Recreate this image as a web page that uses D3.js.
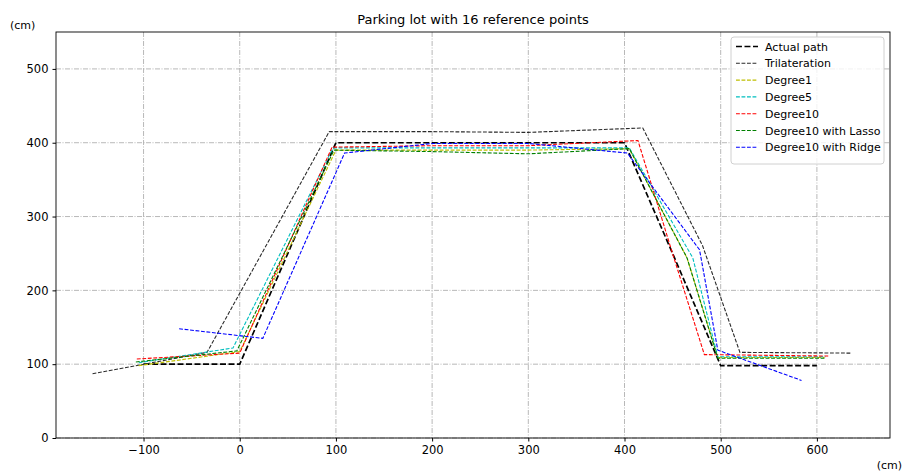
<!DOCTYPE html>
<html>
<head>
  <script src="https://d3js.org/d3.v7.min.js"></script>
  <style>
    body { margin: 0; background: #fff; }
    text { font-family: "DejaVu Sans", sans-serif; fill: #000; }
    .axis path, .axis line { stroke: #000; }
    .grid line { stroke: #b0b0b0; stroke-width: 0.9; stroke-dasharray: 5,1.5,1,1.5; }
  </style>
</head>
<body>
  <div id="chart"></div>
  <script>
    // x positions of each series, y positions of each series
    var actualX = [-100, 0, 100, 200, 300, 400, 450, 500, 600];
    var actualY = [100, 100, 400, 400, 400, 400, 250, 98, 98];
    var trilatX = [-153, -34, 93, 200, 300, 419, 481, 520, 636];
    var trilatY = [87, 116, 415, 415, 414, 420, 261, 116, 115];
    var deg1X = [-105, 0, 100, 200, 300, 405, 465, 497, 608];
    var deg1Y = [98, 117, 390, 390, 390, 392, 244, 109, 109];
    var deg5X = [-105, -7, 97, 200, 300, 405, 471, 497, 609];
    var deg5Y = [102, 122, 393, 393, 393, 393, 244, 110, 110];
    var deg10X = [-107, 0, 96, 200, 300, 414, 448, 483, 613];
    var deg10Y = [107, 115, 394, 396, 396, 403, 258, 113, 111];
    var lassoX = [-108, -3, 98, 200, 300, 405, 465, 497, 608];
    var lassoY = [103, 118, 390, 388, 385, 392, 244, 108, 108];
    var ridgeX = [-63, 24, 109, 200, 300, 403, 478, 497, 584];
    var ridgeY = [148, 135, 386, 399, 399, 386, 255, 119, 78];

    var seriesNames = ["Actual path", "Trilateration", "Degree1", "Degree5", "Degree10",
                       "Degree10 with Lasso", "Degree10 with Ridge"];
    var seriesX = [actualX, trilatX, deg1X, deg5X, deg10X, lassoX, ridgeX];
    var seriesY = [actualY, trilatY, deg1Y, deg5Y, deg10Y, lassoY, ridgeY];
    var colors = ["#000000", "#2a2a2a", "#bfbf00", "#00bfbf", "#ff0000", "#008000", "#0000ff"];
    var widths = [1.7, 1.1, 1.1, 1.1, 1.1, 1.1, 1.1];

    var xTicks = [-100, 0, 100, 200, 300, 400, 500, 600];
    var yTicks = [0, 100, 200, 300, 400, 500];

    var W = 903, H = 472;
    var margin = { top: 32, right: 13, bottom: 34, left: 56 };
    var width = W - margin.left - margin.right;
    var height = H - margin.top - margin.bottom;

    var svg = d3.select("#chart").append("svg")
      .attr("width", W).attr("height", H);
    var g = svg.append("g")
      .attr("transform", "translate(" + margin.left + "," + margin.top + ")");

    var x = d3.scaleLinear().domain([-191, 676]).range([0, width]);
    var y = d3.scaleLinear().domain([0, 550]).range([height, 0]);

    // grid
    g.append("g").attr("class", "grid")
      .selectAll("line").data(xTicks).enter().append("line")
      .attr("x1", function(d) { return x(d); }).attr("x2", function(d) { return x(d); })
      .attr("y1", 0).attr("y2", height);
    g.append("g").attr("class", "grid")
      .selectAll("line").data(yTicks).enter().append("line")
      .attr("y1", function(d) { return y(d); }).attr("y2", function(d) { return y(d); })
      .attr("x1", 0).attr("x2", width);

    var line = d3.line()
      .x(function(d) { return x(d[0]); })
      .y(function(d) { return y(d[1]); });

    seriesNames.forEach(function(name, i) {
      var pts = seriesX[i].map(function(v, j) { return [v, seriesY[i][j]]; });
      var w = widths[i];
      g.append("path")
        .attr("d", line(pts))
        .attr("fill", "none")
        .attr("stroke", colors[i])
        .attr("stroke-width", w)
        .attr("stroke-dasharray", (3.5 * w) + "," + (1.5 * w));
    });

    // axes
    g.append("g").attr("class", "axis")
      .attr("transform", "translate(0," + height + ")")
      .call(d3.axisBottom(x).tickValues(xTicks).tickSize(3.5).tickPadding(4)
        .tickFormat(function(d) { return d < 0 ? "\u2212" + Math.abs(d) : d; }));
    g.append("g").attr("class", "axis")
      .call(d3.axisLeft(y).tickValues(yTicks).tickSize(3.5).tickPadding(4));
    svg.selectAll(".axis text").style("font-size", "11.5px").style("font-family", "DejaVu Sans");
    svg.selectAll(".axis .domain").remove();

    // frame
    g.append("rect").attr("x", 0).attr("y", 0).attr("width", width).attr("height", height)
      .attr("fill", "none").attr("stroke", "#000").attr("stroke-width", 0.9);

    // title and units
    svg.append("text")
      .attr("x", margin.left + width / 2).attr("y", 24)
      .attr("text-anchor", "middle").style("font-size", "13px")
      .text("Parking lot with 16 reference points");
    svg.append("text").attr("x", 10).attr("y", 29).style("font-size", "11px").text("(cm)");
    svg.append("text").attr("x", 902).attr("y", 469).attr("text-anchor", "end")
      .style("font-size", "11px").text("(cm)");

    // legend
    var lg = svg.append("g").attr("transform", "translate(731,37)");
    lg.append("rect").attr("width", 153).attr("height", 127).attr("rx", 3)
      .attr("fill", "#fff").attr("fill-opacity", 0.8)
      .attr("stroke", "#d0d0d0").attr("stroke-width", 1);
    seriesNames.forEach(function(name, i) {
      var yy = 9.5 + i * 16.8;
      var w = widths[i];
      lg.append("line").attr("x1", 5).attr("x2", 27).attr("y1", yy).attr("y2", yy)
        .attr("stroke", colors[i]).attr("stroke-width", w)
        .attr("stroke-dasharray", (3.5 * w) + "," + (1.5 * w));
      lg.append("text").attr("x", 34).attr("y", yy + 4).style("font-size", "11px").text(name);
    });
  </script>
</body>
</html>
